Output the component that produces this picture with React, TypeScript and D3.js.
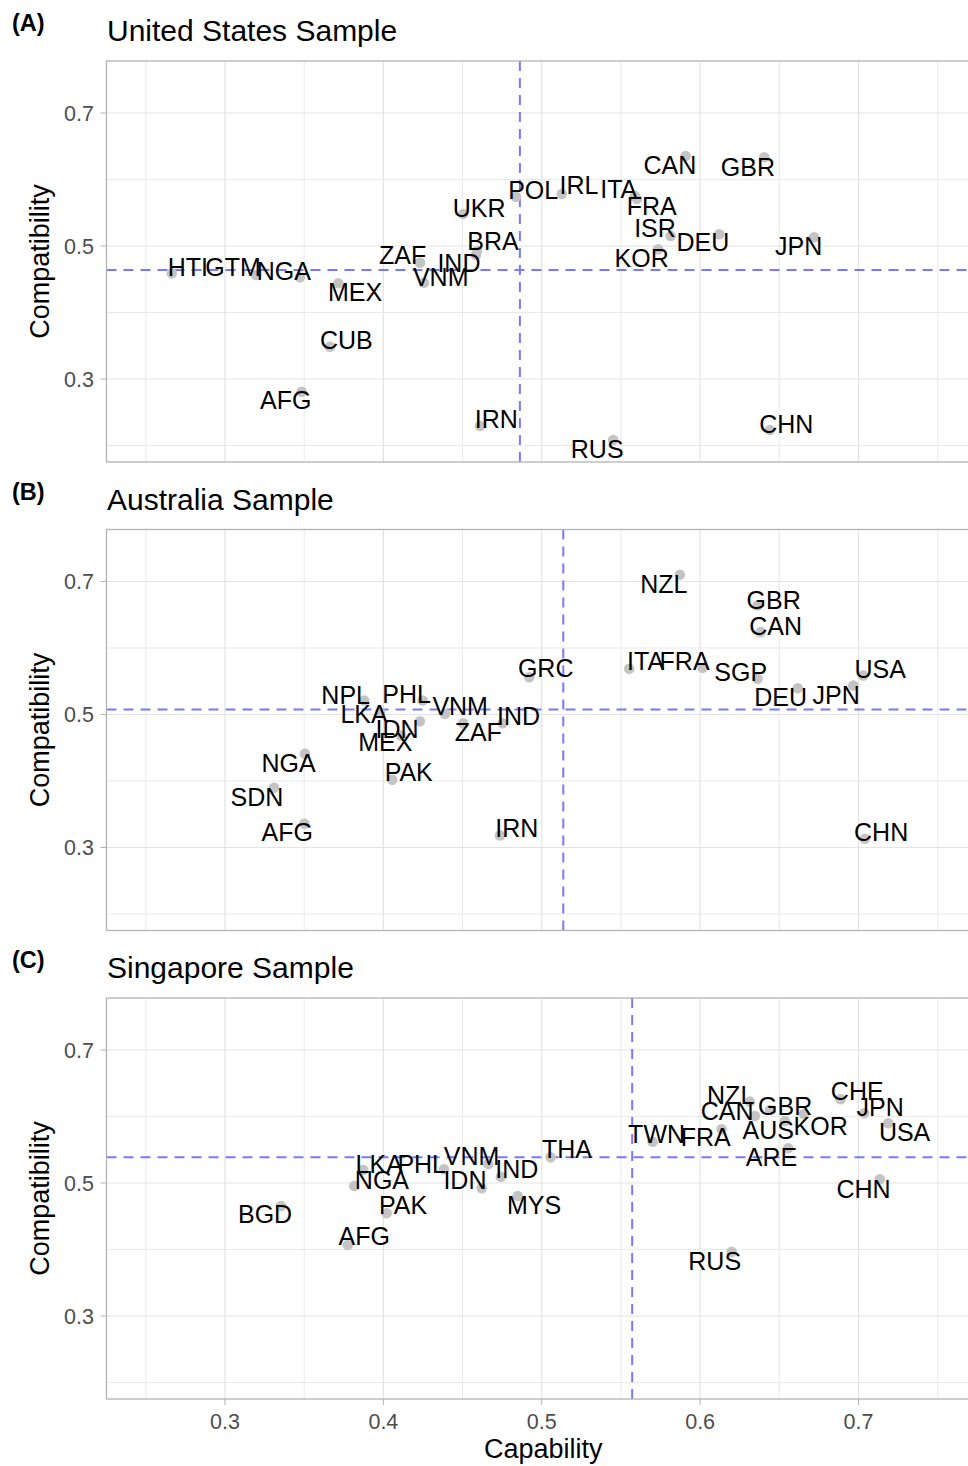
import React from "react";
import * as d3 from "d3";

// ---------- Data ----------
const panelTags = ["(A)", "(B)", "(C)"];
const panelTitles = ["United States Sample", "Australia Sample", "Singapore Sample"];

// Panel A: United States sample
const usCodes = ["HTI","GTM","NGA","MEX","CUB","AFG","ZAF","IND","BRA","VNM","UKR","POL","IRN","IRL","ITA","FRA","CAN","GBR","ISR","DEU","KOR","JPN","CHN","RUS"];
const usCap =   [0.2664,0.3196,0.3473,0.3715,0.3663,0.3484,0.4231,0.4585,0.4591,0.4256,0.4504,0.4837,0.4610,0.5126,0.5588,0.5601,0.5908,0.6405,0.5814,0.6121,0.5735,0.6720,0.6441,0.5451];
const usComp =  [0.4589,0.4564,0.4529,0.4439,0.3486,0.2809,0.4749,0.4865,0.4925,0.4448,0.5481,0.5741,0.2293,0.5782,0.5752,0.5707,0.6353,0.6334,0.5150,0.5176,0.4950,0.5131,0.2233,0.2083];
const usLabelCap =  [0.2765,0.3051,0.3372,0.3821,0.3766,0.3383,0.4122,0.4477,0.4692,0.4362,0.4605,0.4946,0.4713,0.5235,0.5486,0.5694,0.5809,0.6302,0.5715,0.6018,0.5631,0.6622,0.6544,0.5350];
const usLabelComp = [0.4684,0.4684,0.4620,0.4313,0.3582,0.2684,0.4865,0.4740,0.5075,0.4534,0.5567,0.5842,0.2403,0.5913,0.5853,0.5602,0.6223,0.6188,0.5275,0.5060,0.4820,0.5005,0.2328,0.1943];
const usMeanCap = 0.4862;
const usMeanComp = 0.4639;

// Panel B: Australia sample
const auCodes = ["GRC","NPL","LKA","PHL","IDN","MEX","VNM","ZAF","IND","NGA","SDN","AFG","PAK","IRN","NZL","GBR","CAN","ITA","FRA","SGP","DEU","JPN","USA","CHN"];
const auCap =   [0.4921,0.3879,0.3979,0.4248,0.4231,0.4111,0.4389,0.4504,0.4753,0.3505,0.3309,0.3501,0.4056,0.4736,0.5872,0.6363,0.6382,0.5552,0.6016,0.6363,0.6616,0.6967,0.7030,0.7040];
const auComp =  [0.5561,0.5211,0.5030,0.5211,0.4899,0.4684,0.5011,0.4869,0.4869,0.4409,0.3898,0.3356,0.4018,0.3180,0.7101,0.6639,0.6238,0.5687,0.5702,0.5537,0.5395,0.5436,0.5586,0.3131];
const auLabelCap =  [0.5025,0.3762,0.3878,0.4147,0.4086,0.4012,0.4485,0.4599,0.4854,0.3402,0.3202,0.3393,0.4160,0.4842,0.5771,0.6464,0.6477,0.5656,0.5902,0.6256,0.6508,0.6859,0.7137,0.7143];
const auLabelComp = [0.5692,0.5290,0.5005,0.5311,0.4789,0.4579,0.5135,0.4734,0.4980,0.4268,0.3756,0.3226,0.4128,0.3286,0.6959,0.6725,0.6334,0.5802,0.5812,0.5632,0.5266,0.5290,0.5687,0.3226];
const auMeanCap = 0.5136;
const auMeanComp = 0.5075;

// Panel C: Singapore sample
const sgCodes = ["BGD","LKA","NGA","PHL","VNM","IND","IDN","THA","MYS","PAK","AFG","TWN","FRA","NZL","CAN","GBR","AUS","KOR","ARE","CHE","JPN","USA","CHN","RUS"];
const sgCap =   [0.3354,0.3873,0.3816,0.4383,0.4662,0.4742,0.4621,0.5056,0.4848,0.4021,0.3775,0.5700,0.6136,0.6314,0.6346,0.6441,0.6535,0.6655,0.6556,0.6887,0.7036,0.7188,0.7135,0.6199];
const sgComp =  [0.4654,0.5195,0.4955,0.5206,0.5286,0.5095,0.4920,0.5386,0.4805,0.4544,0.4068,0.5621,0.5808,0.6223,0.6008,0.6098,0.5932,0.6038,0.5522,0.6259,0.6048,0.5898,0.5056,0.3967];
const sgLabelCap =  [0.3253,0.3974,0.3991,0.4242,0.4557,0.4843,0.4515,0.5159,0.4951,0.4124,0.3879,0.5725,0.6035,0.6193,0.6171,0.6537,0.6430,0.6761,0.6451,0.6992,0.7137,0.7291,0.7032,0.6092];
const sgLabelComp = [0.4538,0.5290,0.5045,0.5290,0.5406,0.5215,0.5041,0.5507,0.4674,0.4665,0.4203,0.5737,0.5692,0.6328,0.6078,0.6158,0.5797,0.5857,0.5391,0.6379,0.6143,0.5767,0.4910,0.3823];
const sgMeanCap = 0.5571;
const sgMeanComp = 0.5386;

const xTicks = [0.3, 0.4, 0.5, 0.6, 0.7];
const xMinor = [0.25, 0.35, 0.45, 0.55, 0.65, 0.75];
const yTicks = [0.3, 0.5, 0.7];
const yMinor = [0.2, 0.4, 0.6];
const xTitle = "Capability";
const yTitle = "Compatibility";

// ---------- Layout ----------
const W = 968;
const H = 1466;
const FONT = "'Liberation Sans', Arial, Helvetica, sans-serif";
const panelLeft = 106.5;
const panelRight = 980;
const panelOffsets = [0, 468.5, 937];
const panelTop = 61;
const panelBottom = 462;

const xScale = d3.scaleLinear().domain([0.3, 0.7]).range([225, 858.5]);

type PanelData = {
  codes: string[]; cap: number[]; comp: number[]; lcap: number[]; lcomp: number[];
  meanCap: number; meanComp: number;
};

const panels: PanelData[] = [
  { codes: usCodes, cap: usCap, comp: usComp, lcap: usLabelCap, lcomp: usLabelComp, meanCap: usMeanCap, meanComp: usMeanComp },
  { codes: auCodes, cap: auCap, comp: auComp, lcap: auLabelCap, lcomp: auLabelComp, meanCap: auMeanCap, meanComp: auMeanComp },
  { codes: sgCodes, cap: sgCap, comp: sgComp, lcap: sgLabelCap, lcomp: sgLabelComp, meanCap: sgMeanCap, meanComp: sgMeanComp },
];

function Panel({ idx, data }: { idx: number; data: PanelData }) {
  const off = panelOffsets[idx];
  const top = panelTop + off;
  const bottom = panelBottom + off;
  const yScale = d3.scaleLinear().domain([0.3, 0.7]).range([379 + off, 113 + off]);
  const clipId = `clip-${idx}`;
  const gridColor = "#e3e3e3";
  return (
    <g>
      <defs>
        <clipPath id={clipId}>
          <rect x={panelLeft} y={top} width={panelRight - panelLeft} height={bottom - top} />
        </clipPath>
      </defs>
      <text x={12} y={31 + off} fontSize={23.5} fontWeight="bold" fontFamily={FONT} fill="#000">{panelTags[idx]}</text>
      <text x={107} y={41 + off} fontSize={30} fontFamily={FONT} fill="#000">{panelTitles[idx]}</text>
      <g clipPath={`url(#${clipId})`}>
        <rect x={panelLeft} y={top} width={panelRight - panelLeft} height={bottom - top} fill="#fff" />
        {xMinor.map((v) => (
          <line key={`xm${v}`} x1={xScale(v)} x2={xScale(v)} y1={top} y2={bottom} stroke={gridColor} strokeWidth={0.8} />
        ))}
        {yMinor.map((v) => (
          <line key={`ym${v}`} y1={yScale(v)} y2={yScale(v)} x1={panelLeft} x2={panelRight} stroke={gridColor} strokeWidth={0.8} />
        ))}
        {xTicks.map((v) => (
          <line key={`xg${v}`} x1={xScale(v)} x2={xScale(v)} y1={top} y2={bottom} stroke={gridColor} strokeWidth={1.2} />
        ))}
        {yTicks.map((v) => (
          <line key={`yg${v}`} y1={yScale(v)} y2={yScale(v)} x1={panelLeft} x2={panelRight} stroke={gridColor} strokeWidth={1.2} />
        ))}
        <line x1={xScale(data.meanCap)} x2={xScale(data.meanCap)} y1={top} y2={bottom} stroke="#7878ff" strokeWidth={2} strokeDasharray="10,7" />
        <line y1={yScale(data.meanComp)} y2={yScale(data.meanComp)} x1={panelLeft} x2={panelRight} stroke="#7878ff" strokeWidth={2} strokeDasharray="10,7" />
        {data.codes.map((c, i) => (
          <circle key={`p${c}`} cx={xScale(data.cap[i])} cy={yScale(data.comp[i])} r={5.3} fill="#c4c4c4" />
        ))}
        {data.codes.map((c, i) => (
          <text key={`t${c}`} x={xScale(data.lcap[i])} y={yScale(data.lcomp[i])} dy="0.36em" textAnchor="middle" fontSize={25} fontFamily={FONT} fill="#000">{c}</text>
        ))}
      </g>
      <rect x={panelLeft} y={top} width={panelRight - panelLeft} height={bottom - top} fill="none" stroke="#b3b3b3" strokeWidth={1.3} />
      {yTicks.map((v) => (
        <g key={`yt${v}`}>
          <line x1={panelLeft - 6} x2={panelLeft} y1={yScale(v)} y2={yScale(v)} stroke="#b3b3b3" strokeWidth={1} />
          <text x={94} y={yScale(v)} dy="0.36em" textAnchor="end" fontSize={21.5} fontFamily={FONT} fill="#4d4d4d">{v.toFixed(1)}</text>
        </g>
      ))}
      <text transform={`translate(49, ${(top + bottom) / 2}) rotate(-90)`} textAnchor="middle" fontSize={27} fontFamily={FONT} fill="#000">{yTitle}</text>
    </g>
  );
}

export default function App() {
  const bottom = panelBottom + panelOffsets[2];
  return (
    <svg width={W} height={H} style={{ position: "absolute", left: 0, top: 0, background: "#fff" }}>
      <rect x={0} y={0} width={W} height={H} fill="#fff" />
      {panels.map((p, i) => <Panel key={i} idx={i} data={p} />)}
      {xTicks.map((v) => (
        <g key={`xt${v}`}>
          <line x1={xScale(v)} x2={xScale(v)} y1={bottom} y2={bottom + 6} stroke="#b3b3b3" strokeWidth={1} />
          <text x={xScale(v)} y={1429} textAnchor="middle" fontSize={21.5} fontFamily={FONT} fill="#4d4d4d">{v.toFixed(1)}</text>
        </g>
      ))}
      <text x={(panelLeft + panelRight) / 2} y={1458} textAnchor="middle" fontSize={27} fontFamily={FONT} fill="#000">{xTitle}</text>
    </svg>
  );
}
